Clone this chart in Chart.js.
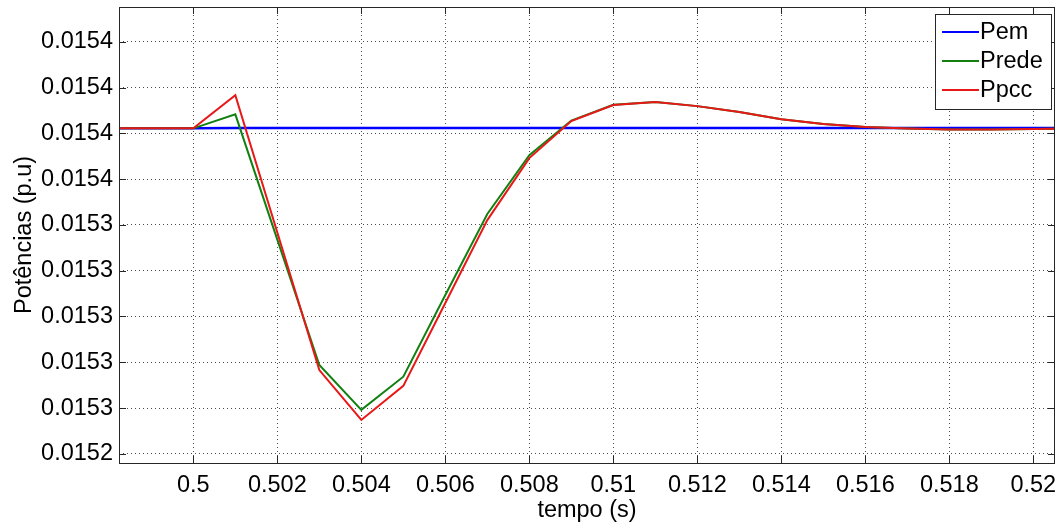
<!DOCTYPE html>
<html>
<head>
<meta charset="utf-8">
<script src="https://cdn.jsdelivr.net/npm/chart.js@4/dist/chart.umd.min.js"></script>
<style>
  html, body { margin: 0; padding: 0; background: #fff; }
  #wrap { width: 1058px; height: 522px; position: relative; }
</style>
</head>
<body>
<div id="wrap"><canvas id="c"></canvas></div>
<script>
const time = [0.498, 0.499, 0.5, 0.501, 0.502, 0.503, 0.504, 0.505, 0.506, 0.507, 0.508, 0.509,
  0.51, 0.511, 0.512, 0.513, 0.514, 0.515, 0.516, 0.517, 0.518, 0.519, 0.52, 0.521];

const pem = [0.0153822, 0.0153822, 0.0153822, 0.0153823, 0.0153823, 0.0153823, 0.0153823, 0.0153823,
  0.0153823, 0.0153823, 0.0153823, 0.0153823, 0.0153823, 0.0153823, 0.0153823, 0.0153823,
  0.0153823, 0.0153823, 0.0153823, 0.0153823, 0.0153823, 0.0153823, 0.0153823, 0.0153823];

const prede = [0.0153822, 0.0153822, 0.0153822, 0.0153883, 0.0153336, 0.0152788, 0.0152592, 0.0152737,
  0.0153094, 0.0153448, 0.0153705, 0.0153856, 0.0153925, 0.0153937, 0.0153919, 0.0153893,
  0.0153862, 0.0153841, 0.0153828, 0.0153821, 0.0153817, 0.0153817, 0.0153819, 0.0153821];

const ppcc = [0.0153822, 0.0153822, 0.0153822, 0.0153967, 0.0153367, 0.0152766, 0.0152548, 0.0152697,
  0.0153059, 0.0153421, 0.0153692, 0.0153854, 0.0153924, 0.0153937, 0.0153919, 0.0153893,
  0.0153862, 0.0153841, 0.0153828, 0.0153821, 0.0153817, 0.0153817, 0.0153819, 0.0153821];

const xTicks = [0.5, 0.502, 0.504, 0.506, 0.508, 0.51, 0.512, 0.514, 0.516, 0.518, 0.52];
const yTicks = [0.01524, 0.01526, 0.01528, 0.0153, 0.01532, 0.01534, 0.01536, 0.01538, 0.0154, 0.01542];

const FONT = "'Liberation Sans', Arial, sans-serif";
const FSIZE = 23.5;
const toPoints = (ys) => time.map((t, i) => ({ x: t, y: ys[i] }));

// MATLAB-like box, inward ticks and legend
const boxPlugin = {
  id: "box",
  afterDatasetsDraw(chart) {
    const { ctx, chartArea: a, scales } = chart;
    ctx.save();
    ctx.strokeStyle = "#262626";
    ctx.lineWidth = 1;
    ctx.beginPath();
    const tl = 7;
    for (const v of xTicks) {
      const x = Math.round(scales.x.getPixelForValue(v)) + 0.5;
      ctx.moveTo(x, a.bottom); ctx.lineTo(x, a.bottom - tl);
      ctx.moveTo(x, a.top); ctx.lineTo(x, a.top + tl);
    }
    for (const v of yTicks) {
      const y = Math.round(scales.y.getPixelForValue(v)) + 0.5;
      ctx.moveTo(a.left, y); ctx.lineTo(a.left + tl, y);
      ctx.moveTo(a.right, y); ctx.lineTo(a.right - tl, y);
    }
    ctx.stroke();
    ctx.strokeRect(Math.round(a.left) + 0.5, Math.round(a.top) + 0.5,
      Math.round(a.right - a.left) - 1, Math.round(a.bottom - a.top));

    // legend, top to bottom in dataset order
    const bx = 935, by = 14, bw = 116, bh = 95;
    ctx.fillStyle = "#fff";
    ctx.fillRect(bx, by, bw, bh);
    ctx.strokeStyle = "#262626";
    ctx.strokeRect(bx + 0.5, by + 0.5, bw, bh);
    ctx.font = FSIZE + "px " + FONT;
    ctx.textBaseline = "middle";
    ctx.textAlign = "left";
    chart.data.datasets.forEach((ds, i) => {
      const y = by + 18 + i * 29;
      ctx.strokeStyle = ds.borderColor;
      ctx.lineWidth = 2;
      ctx.beginPath();
      ctx.moveTo(942, y); ctx.lineTo(979, y);
      ctx.stroke();
      ctx.fillStyle = "#000";
      ctx.fillText(ds.label, 980, y + 1);
    });
    ctx.restore();
  },
};

new Chart(document.getElementById("c"), {
  type: "line",
  data: {
    datasets: [
      { label: "Pem", data: toPoints(pem), borderColor: "#0000ff", borderWidth: 2.5, pointRadius: 0, order: 3 },
      { label: "Prede", data: toPoints(prede), borderColor: "#118011", borderWidth: 2, pointRadius: 0, order: 2 },
      { label: "Ppcc", data: toPoints(ppcc), borderColor: "#e81818", borderWidth: 2, pointRadius: 0, order: 1 },
    ],
  },
  options: {
    responsive: true,
    maintainAspectRatio: false,
    animation: false,
    layout: { padding: { top: 7, right: 3, left: 0, bottom: 0 } },
    plugins: { legend: { display: false }, tooltip: { enabled: false } },
    elements: { line: { tension: 0 } },
    scales: {
      x: {
        type: "linear",
        min: 0.49823,
        max: 0.520517,
        afterBuildTicks: (s) => { s.ticks = xTicks.map((v) => ({ value: v })); },
        afterFit: (s) => { s.height = 59; s.paddingLeft = 0; s.paddingRight = 0; },
        ticks: {
          color: "#000",
          font: { family: FONT, size: FSIZE },
          padding: 8,
          maxRotation: 0,
          autoSkip: false,
          callback: (v) => String(+v.toFixed(3)),
        },
        grid: { color: "rgba(0,0,0,0.7)", drawTicks: false },
        border: { display: false, dash: [1, 3] },
        title: { display: true, text: "tempo (s)", color: "#000", font: { family: FONT, size: FSIZE }, padding: { top: 0, bottom: -3 } },
      },
      y: {
        type: "linear",
        min: 0.015236,
        max: 0.0154352,
        afterBuildTicks: (s) => { s.ticks = yTicks.map((v) => ({ value: v })); },
        afterFit: (s) => { s.width = 119; s.paddingTop = 0; s.paddingBottom = 0; },
        ticks: {
          color: "#000",
          font: { family: FONT, size: FSIZE },
          padding: 6,
          autoSkip: false,
          callback: (v) => v.toFixed(4),
        },
        grid: { color: "rgba(0,0,0,0.7)", drawTicks: false },
        border: { display: false, dash: [1, 3] },
        title: { display: true, text: "Potências (p.u)", color: "#000", font: { family: FONT, size: FSIZE }, padding: { top: 10, bottom: 0 } },
      },
    },
  },
  plugins: [boxPlugin],
});
</script>
</body>
</html>
